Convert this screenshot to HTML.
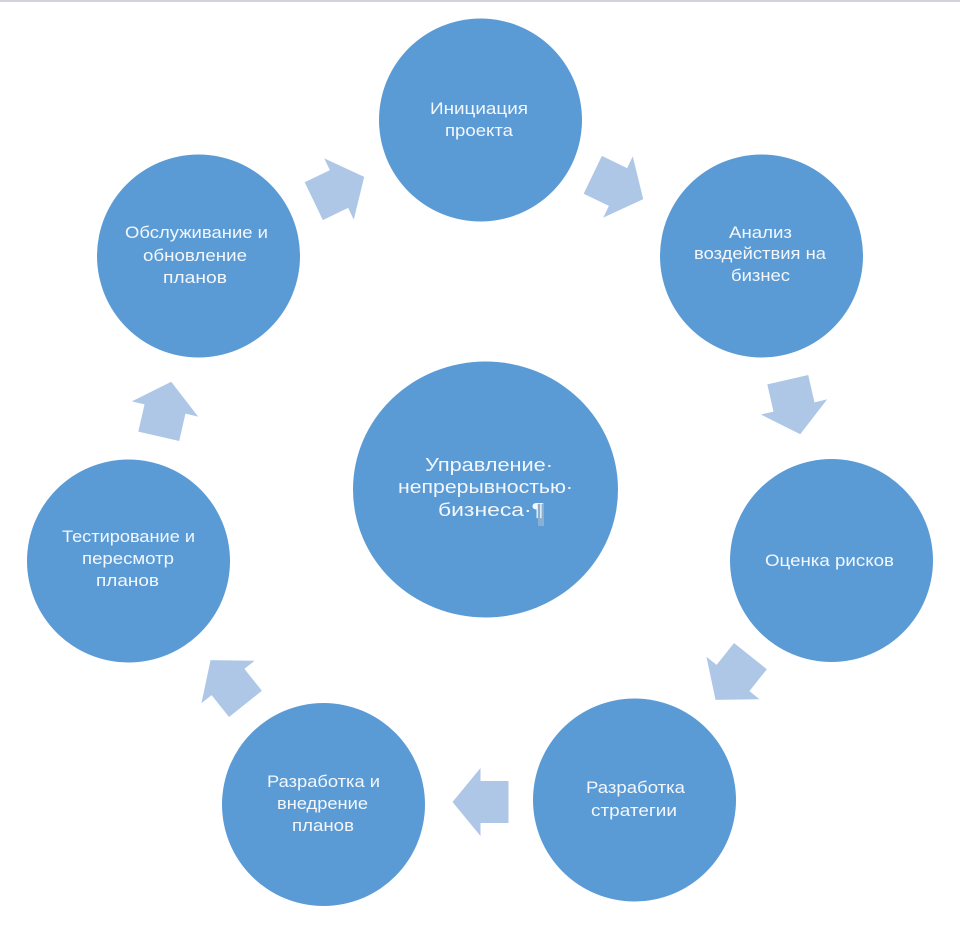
<!DOCTYPE html>
<html>
<head>
<meta charset="utf-8">
<style>
  html,body{margin:0;padding:0;background:#ffffff;}
  body{width:960px;height:934px;overflow:hidden;position:relative;}
  svg{display:block;}
  .t{font-family:"Liberation Sans","DejaVu Sans",sans-serif;font-size:17px;fill:#f3f7fc;text-anchor:middle;}
  .c{font-family:"Liberation Sans","DejaVu Sans",sans-serif;font-size:18px;fill:#f3f7fc;text-anchor:middle;}
</style>
</head>
<body>
<svg width="960" height="934" viewBox="0 0 960 934" xmlns="http://www.w3.org/2000/svg">
  <rect x="0" y="0" width="960" height="934" fill="#ffffff"/>
  <rect x="0" y="0" width="960" height="2" fill="#d3d3dc"/>

  <defs>
    <polygon id="arr" points="-28,-21 0,-21 0,-34 28,0 0,34 0,21 -28,21" fill="#afc7e7"/>
  </defs>

  <!-- arrows -->
  <use href="#arr" transform="translate(618,187) rotate(25.714)"/>
  <use href="#arr" transform="translate(794,407) rotate(77.143)"/>
  <use href="#arr" transform="translate(733,678) rotate(128.571)"/>
  <use href="#arr" transform="translate(480.5,802) rotate(180)"/>
  <use href="#arr" transform="translate(228,682) rotate(231.429)"/>
  <use href="#arr" transform="translate(165,409) rotate(282.857)"/>
  <use href="#arr" transform="translate(339,189) rotate(334.286)"/>

  <!-- circles -->
  <g fill="#5b9bd5">
    <circle cx="480.5" cy="120" r="101.5"/>
    <circle cx="761.5" cy="256" r="101.5"/>
    <circle cx="831.5" cy="560.5" r="101.5"/>
    <circle cx="634.5" cy="800" r="101.5"/>
    <circle cx="323.5" cy="804.5" r="101.5"/>
    <circle cx="128.5" cy="561" r="101.5"/>
    <circle cx="198.5" cy="256" r="101.5"/>
    <ellipse cx="485.5" cy="489.5" rx="132.5" ry="128"/>
  </g>

  <!-- pilcrow highlight -->
  <rect x="538" y="503" width="6" height="23" fill="#a9bccf" opacity="0.6"/>

  <!-- center text -->
  <text class="c" x="489" y="471" textLength="128" lengthAdjust="spacingAndGlyphs">Управление·</text>
  <text class="c" x="485.5" y="493" textLength="175" lengthAdjust="spacingAndGlyphs">непрерывностью·</text>
  <text class="c" x="491" y="516" textLength="106" lengthAdjust="spacingAndGlyphs">бизнеса·¶</text>

  <!-- top -->
  <text class="t" x="479" y="114" textLength="98" lengthAdjust="spacingAndGlyphs">Инициация</text>
  <text class="t" x="479" y="136" textLength="68" lengthAdjust="spacingAndGlyphs">проекта</text>

  <!-- top right -->
  <text class="t" x="760.5" y="238" textLength="63" lengthAdjust="spacingAndGlyphs">Анализ</text>
  <text class="t" x="760" y="259" textLength="132" lengthAdjust="spacingAndGlyphs">воздействия на</text>
  <text class="t" x="760.5" y="281" textLength="59" lengthAdjust="spacingAndGlyphs">бизнес</text>

  <!-- right -->
  <text class="t" x="829.5" y="566" textLength="129" lengthAdjust="spacingAndGlyphs">Оценка рисков</text>

  <!-- bottom right -->
  <text class="t" x="635.5" y="793" textLength="99" lengthAdjust="spacingAndGlyphs">Разработка</text>
  <text class="t" x="634" y="816" textLength="86" lengthAdjust="spacingAndGlyphs">стратегии</text>

  <!-- bottom left -->
  <text class="t" x="323.5" y="787" textLength="113" lengthAdjust="spacingAndGlyphs">Разработка и</text>
  <text class="t" x="322.5" y="809" textLength="91" lengthAdjust="spacingAndGlyphs">внедрение</text>
  <text class="t" x="323" y="831" textLength="62" lengthAdjust="spacingAndGlyphs">планов</text>

  <!-- left -->
  <text class="t" x="128.5" y="542" textLength="133" lengthAdjust="spacingAndGlyphs">Тестирование и</text>
  <text class="t" x="128" y="564" textLength="92" lengthAdjust="spacingAndGlyphs">пересмотр</text>
  <text class="t" x="127.5" y="586" textLength="63" lengthAdjust="spacingAndGlyphs">планов</text>

  <!-- top left -->
  <text class="t" x="196.5" y="238" textLength="143" lengthAdjust="spacingAndGlyphs">Обслуживание и</text>
  <text class="t" x="195" y="261" textLength="104" lengthAdjust="spacingAndGlyphs">обновление</text>
  <text class="t" x="195" y="283" textLength="64" lengthAdjust="spacingAndGlyphs">планов</text>
</svg>
</body>
</html>
